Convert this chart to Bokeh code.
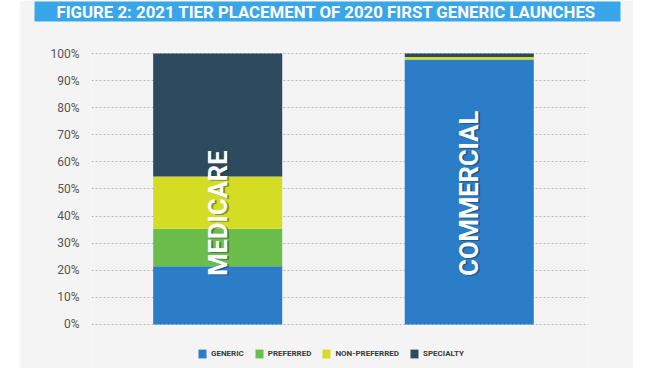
from bokeh.plotting import figure
from bokeh.models import (ColumnDataSource, Range1d, FixedTicker, PrintfTickFormatter,
                          Legend, LegendItem, Spacer, Title)
from bokeh.layouts import row
from bokeh.core.properties import value
from bokeh.embed import file_html
from bokeh.resources import INLINE
import math

# ---- data ----
categories = ["MEDICARE", "COMMERCIAL"]
tiers = ["GENERIC", "PREFERRED", "NON-PREFERRED", "SPECIALTY"]
generic = [21.5, 97.8]
preferred = [13.8, 0.0]
non_preferred = [19.3, 0.9]
specialty = [45.4, 1.3]
y_ticks = [0, 10, 20, 30, 40, 50, 60, 70, 80, 90, 100]
title_text = "FIGURE 2: 2021 TIER PLACEMENT OF 2020 FIRST GENERIC LAUNCHES"

# ---- styles ----
colors = ["#2b7dc8", "#6cbe4c", "#d4dd23", "#2e4a5e"]
panel_bg = "#f4f4f4"
banner_bg = "#3aa6ea"
font = "Roboto"

xpos = list(range(len(categories)))
src = ColumnDataSource(dict(x=xpos, cat=categories, GENERIC=generic, PREFERRED=preferred,
                            **{"NON-PREFERRED": non_preferred}, SPECIALTY=specialty))

p = figure(width=614, height=368, output_backend="svg", toolbar_location=None,
           x_range=Range1d(-0.5016, 1.474), y_range=Range1d(-16.24, 100.37),
           min_border_left=72, min_border_right=45, min_border_top=52, min_border_bottom=0,
           title=None)
p.background_fill_color = panel_bg
p.border_fill_color = panel_bg
p.outline_line_color = None

rs = p.vbar_stack(tiers, x="x", width=0.513, source=src, color=colors, line_color=None)

# bar labels with shadow
p.text(x="x", y=18, text="cat", source=src, angle=math.pi / 2, text_align="left",
       text_baseline="middle", text_font=value(font), text_font_style="bold",
       text_font_size="25.5px", text_color="#12304a", text_alpha=0.45, x_offset=2, y_offset=1)
p.text(x="x", y=18, text="cat", source=src, angle=math.pi / 2, text_align="left",
       text_baseline="middle", text_font=value(font), text_font_style="bold",
       text_font_size="25.5px", text_color="white")

# axes
p.xaxis.visible = False
p.xgrid.visible = False
yax = p.yaxis[0]
yax.ticker = FixedTicker(ticks=y_ticks)
yax.formatter = PrintfTickFormatter(format="%d%%")
yax.axis_line_color = None
yax.major_tick_line_color = None
yax.minor_tick_line_color = None
yax.major_label_standoff = 6
yax.major_label_text_font = font
yax.major_label_text_font_size = "12px"
yax.major_label_text_color = "#555555"
p.ygrid.ticker = FixedTicker(ticks=y_ticks)
p.ygrid.grid_line_color = "#b8b8b8"
p.ygrid.grid_line_dash = "2 2"
p.ygrid.grid_line_width = 1

# spacer between banner and plot area (first "above" item sits nearest the frame)
gap = Title(text=" ", text_font_size="1px", standoff=26)
p.add_layout(gap, "above")

# title banner
title = Title(text=title_text, align="left", offset=-57, vertical_align="top",
              standoff=0, text_font=font, text_font_style="bold", text_font_size="16.8px",
              text_line_height=1.0, text_color="white", background_fill_color=banner_bg,
              padding=dict(left=22, right=24, top=0, bottom=0))
p.add_layout(title, "above")

# legend
legend = Legend(items=[LegendItem(label=t, renderers=[r]) for t, r in zip(tiers, rs)],
                orientation="horizontal", location=(106, 9), padding=0, margin=0,
                spacing=10, glyph_width=10, glyph_height=11, label_height=11,
                label_standoff=4, border_line_color=None, background_fill_alpha=0,
                label_text_font=font, label_text_font_style="bold",
                label_text_font_size="8px", label_text_color="#3a3a3a")
p.add_layout(legend)

layout = row(Spacer(width=19, height=368), p)
open("out.html", "w").write(file_html(layout, INLINE))
